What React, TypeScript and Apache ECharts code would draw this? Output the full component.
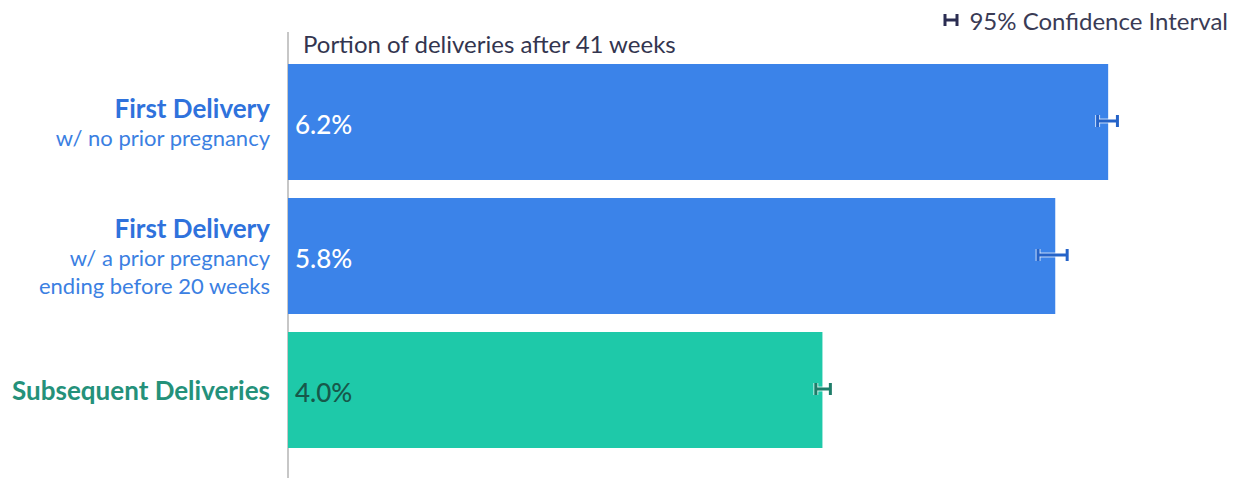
import React, { useEffect, useRef } from "react";
import * as echarts from "echarts";

const categoryTitles = ["First Delivery", "First Delivery", "Subsequent Deliveries"];
const categorySubtitles = [["w/ no prior pregnancy"], ["w/ a prior pregnancy", "ending before 20 weeks"], []];
const values = [6.2, 5.8, 4.04];
const ciLow = [6.12, 5.67, 3.99];
const ciHigh = [6.27, 5.89, 4.1];
const valueLabels = ["6.2%", "5.8%", "4.0%"];
const titleText = "Portion of deliveries after 41 weeks";
const legendText = "95% Confidence Interval";

const BLUE = "#3b83e9";
const TEAL = "#1ec9a9";
const FONT = "Lato, 'Noto Sans', sans-serif";

export default function App() {
  const ref = useRef<HTMLDivElement>(null);
  useEffect(() => {
    const chart = echarts.init(ref.current!, null, { renderer: "svg" });
    const cats = categoryTitles.map((t, i) => String(i));
    const option: any = {
      animation: false,
      backgroundColor: "#ffffff",
      grid: { left: 288, top: 55, width: 926, height: 402 },
      xAxis: {
        type: "value",
        min: 0,
        max: 7,
        show: false,
      },
      yAxis: {
        type: "category",
        inverse: true,
        data: cats,
        axisLine: { show: false },
        axisTick: { show: false },
        axisLabel: {
          margin: 18,
          align: "right",
          fontFamily: FONT,
          formatter: (v: string) => {
            const i = Number(v);
            const isTeal = i === 2;
            const parts = [`{${isTeal ? "tt" : "t"}|${categoryTitles[i]}}`];
            categorySubtitles[i].forEach((s) => parts.push(`{s|${s}}`));
            return parts.join("\n");
          },
          rich: {
            t: { fontSize: 26, fontWeight: "bold", color: "#2f72dc", lineHeight: 30, fontFamily: FONT },
            tt: { fontSize: 26, fontWeight: "bold", color: "#24917a", lineHeight: 30, fontFamily: FONT },
            s: { fontSize: 22, color: "#3b80e2", lineHeight: 28, fontFamily: FONT },
          },
        },
      },
      series: [
        {
          type: "bar",
          barWidth: 116,
          data: values.map((v, i) => ({
            value: v,
            itemStyle: { color: i === 2 ? TEAL : BLUE },
            label: {
              show: true,
              position: "insideLeft",
              offset: [2, 2],
              formatter: valueLabels[i],
              fontSize: 26,
              fontFamily: FONT,
              fontWeight: 500,
              color: i === 2 ? "#17584a" : "#ffffff",
            },
          })),
        },
        {
          type: "custom",
          data: values.map((_, i) => [ciLow[i], ciHigh[i], i]),
          encode: { x: [0, 1], y: 2 },
          z: 10,
          renderItem: (params: any, api: any) => {
            const idx = api.value(2);
            const p1 = api.coord([api.value(0), idx]);
            const p2 = api.coord([api.value(1), idx]);
            const y = p1[1] - 1;
            const h = 6;
            const color = idx === 2 ? "#1e7d69" : "#2563c8";
            const mk = (stroke: string, w: number) => [
              { type: "line", shape: { x1: p1[0], y1: y, x2: p2[0], y2: y }, style: { stroke, lineWidth: w } },
              { type: "line", shape: { x1: p1[0], y1: y - h, x2: p1[0], y2: y + h }, style: { stroke, lineWidth: w } },
              { type: "line", shape: { x1: p2[0], y1: y - h, x2: p2[0], y2: y + h }, style: { stroke, lineWidth: w } },
            ];
            return { type: "group", children: [...mk("rgba(255,255,255,0.7)", 5), ...mk(color, 3)] };
          },
        },
      ],
      graphic: [
        { type: "line", shape: { x1: 288, y1: 32, x2: 288, y2: 478 }, style: { stroke: "#b5b5b5", lineWidth: 1.5 } },
        {
          type: "text",
          x: 303,
          y: 43,
          style: { text: titleText, fontSize: 24, fontFamily: FONT, fill: "#33354f", verticalAlign: "middle" },
        },
        {
          type: "text",
          x: 1228,
          y: 20,
          style: { text: legendText, fontSize: 24, fontFamily: FONT, fill: "#3a3b55", align: "right", verticalAlign: "middle" },
        },
        { type: "line", shape: { x1: 945, y1: 20, x2: 957, y2: 20 }, style: { stroke: "#2b2d52", lineWidth: 3 } },
        { type: "line", shape: { x1: 945, y1: 14, x2: 945, y2: 26 }, style: { stroke: "#2b2d52", lineWidth: 3 } },
        { type: "line", shape: { x1: 957, y1: 14, x2: 957, y2: 26 }, style: { stroke: "#2b2d52", lineWidth: 3 } },
      ],
    };
    chart.setOption(option);
    return () => chart.dispose();
  }, []);
  return (
    <div
      ref={ref}
      style={{ position: "fixed", left: 0, top: 0, width: 1239, height: 479, background: "#fff" }}
    />
  );
}
